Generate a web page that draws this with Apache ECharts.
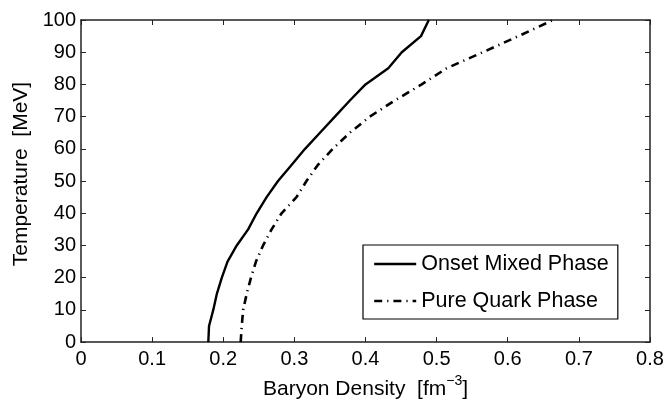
<!DOCTYPE html>
<html><head><meta charset="utf-8">
<script src="https://cdn.jsdelivr.net/npm/echarts@6/dist/echarts.min.js"></script>
<style>html,body{margin:0;padding:0;background:#fff}#c{width:668px;height:405px}</style>
</head><body><div id="c"></div>
<script>
const temperature = [0,5,10,15,20,25,30,35,40,45,50,55,60,65,70,75,80,85,90,95,100];
const onsetMixed = [0.179,0.180,0.186,0.191,0.198,0.206,0.219,0.235,0.247,0.261,0.277,0.296,0.315,0.336,0.357,0.378,0.400,0.432,0.451,0.478,0.489];
const pureQuark = [0.2245,0.226,0.228,0.233,0.239,0.246,0.256,0.268,0.282,0.303,0.317,0.333,0.354,0.378,0.406,0.441,0.479,0.514,0.565,0.615,0.664];
const seriesNames = ['Onset Mixed Phase','Pure Quark Phase'];
const xLabel = 'Baryon Density  [fm';
const yLabel = 'Temperature  [MeV]';

const font = 'Liberation Sans, Arial, Helvetica, sans-serif';
const chart = echarts.init(document.getElementById('c'), null, {renderer:'canvas'});
const pts = (ys) => temperature.map((t,i)=>[ys[i], t]);
const axCommon = {
  axisLine:{show:true, onZero:false, lineStyle:{color:'#222', width:1.5}},
  axisTick:{show:true, inside:true, length:5, lineStyle:{color:'#222', width:1}},
  splitLine:{show:false}
};
chart.setOption({
  animation:false,
  backgroundColor:'#fff',
  grid:{left:81, right:18, top:20, bottom:56, containLabel:false},
  xAxis:[
    Object.assign({type:'value', min:0, max:0.8, interval:0.1, position:'bottom',
      name: '{a|' + xLabel + '}{s|−3}{a|]}', nameLocation:'middle', nameGap:30,
      nameTextStyle:{rich:{a:{fontFamily:font, fontSize:21, color:'#000', verticalAlign:'bottom'}, s:{fontFamily:font, fontSize:14, color:'#000', verticalAlign:'top', padding:[0,0,12,0]}}},
      axisLabel:{fontFamily:font, fontSize:20, color:'#000', margin:7, formatter:v=>String(Math.round(v*10)/10)}}, axCommon),
    Object.assign({type:'value', min:0, max:0.8, interval:0.1, position:'top', axisLabel:{show:false}}, axCommon)
  ],
  yAxis:[
    Object.assign({type:'value', min:0, max:100, interval:10, position:'left',
      name:yLabel, nameLocation:'middle', nameGap:47,
      nameTextStyle:{fontFamily:font, fontSize:21, color:'#000', padding:[0,0,0,14]},
      axisLabel:{fontFamily:font, fontSize:20, color:'#000', margin:5}}, axCommon),
    Object.assign({type:'value', min:0, max:100, interval:10, position:'right', axisLabel:{show:false}}, axCommon)
  ],
  legend:{
    show:true, orient:'vertical', left:363, top:245,
    padding:[8,9,7,10], itemGap:15, itemWidth:42, itemHeight:20,
    borderColor:'#000', borderWidth:1.2, backgroundColor:'#fff',
    itemStyle:{color:'rgba(0,0,0,0)', borderWidth:0, opacity:0},
    lineStyle:{width:2.4},
    textStyle:{fontFamily:font, fontSize:21.5, color:'#000'},
    data: seriesNames
  },
  series:[
    {name:seriesNames[0], type:'line', data:pts(onsetMixed), showSymbol:false, symbol:'none', smooth:false,
      lineStyle:{color:'#000', width:2.4}, itemStyle:{color:'#000'}},
    {name:seriesNames[1], type:'line', data:pts(pureQuark), showSymbol:false, symbol:'none', smooth:false,
      lineStyle:{color:'#000', width:2.6, type:[8,5,1.2,5]}, itemStyle:{color:'#000'}}
  ]
});
</script></body></html>
